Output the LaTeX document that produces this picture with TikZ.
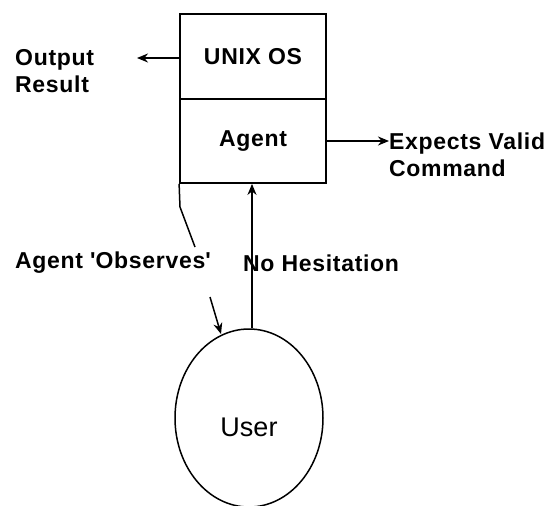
\documentclass[tikz,border=0pt]{standalone}
\usepackage{fontspec}
\setmainfont{Liberation Sans}
\newfontfamily\lblfont[LetterSpace=3]{Liberation Sans}
\usetikzlibrary{arrows.meta,shapes.geometric}
\begin{document}
\begin{tikzpicture}[x=1pt,y=-1pt,
  lbl/.style={font=\lblfont\bfseries\fontsize{23}{27}\selectfont, inner sep=0pt},
  box/.style={draw, line width=1.8pt, minimum width=146pt, minimum height=84.5pt, inner sep=0pt, font=\lblfont\bfseries\fontsize{23}{27}\selectfont},
  conn/.style={line width=1.8pt, -{Stealth[length=11pt,width=9pt]}},
  plain/.style={line width=1.5pt}]
\useasboundingbox (0,0) rectangle (555,506);
\node[box] (unix) at (253,56.25) {UNIX OS};
\node[box] (agent) at (253,140.75) {Agent};
\draw[line width=1.8pt] (unix.south west) -- (unix.south east);
\node[draw, ellipse, line width=1.5pt, minimum width=148pt, minimum height=178pt, inner sep=0pt] (user) at (249,418) {};
\node[inner sep=0pt, font=\fontsize{27}{31}\selectfont] (usertxt) at (249,427) {User};
\node[lbl, anchor=west, align=left] (out) at (15,71) {Output\\Result};
\node[lbl, anchor=west, align=left] (exp) at (389,155) {Expects Valid\\Command};
\node[lbl, anchor=west] (obs) at (15,263) {Agent \textquotesingle Observes\textquotesingle};
\node[lbl, anchor=west] (noh) at (243,263) {No Hesitation};
\coordinate (outtip) at (137,58);
\coordinate (exptip) at (389,141);
\draw[conn] (unix.west |- outtip) -- (outtip);
\draw[conn] (agent.east |- exptip) -- (exptip);
\draw[conn] (user.north -| 252,0) -- (agent.south -| 252,0);
\coordinate (o1) at (180,207);
\coordinate (o2) at (195,247);
\coordinate (o3) at (210,297);
\draw[plain] (agent.south west) -- (o1) -- (o2);
\draw[conn, line width=1.5pt] (o3) -- (221,334);
\end{tikzpicture}
\end{document}
